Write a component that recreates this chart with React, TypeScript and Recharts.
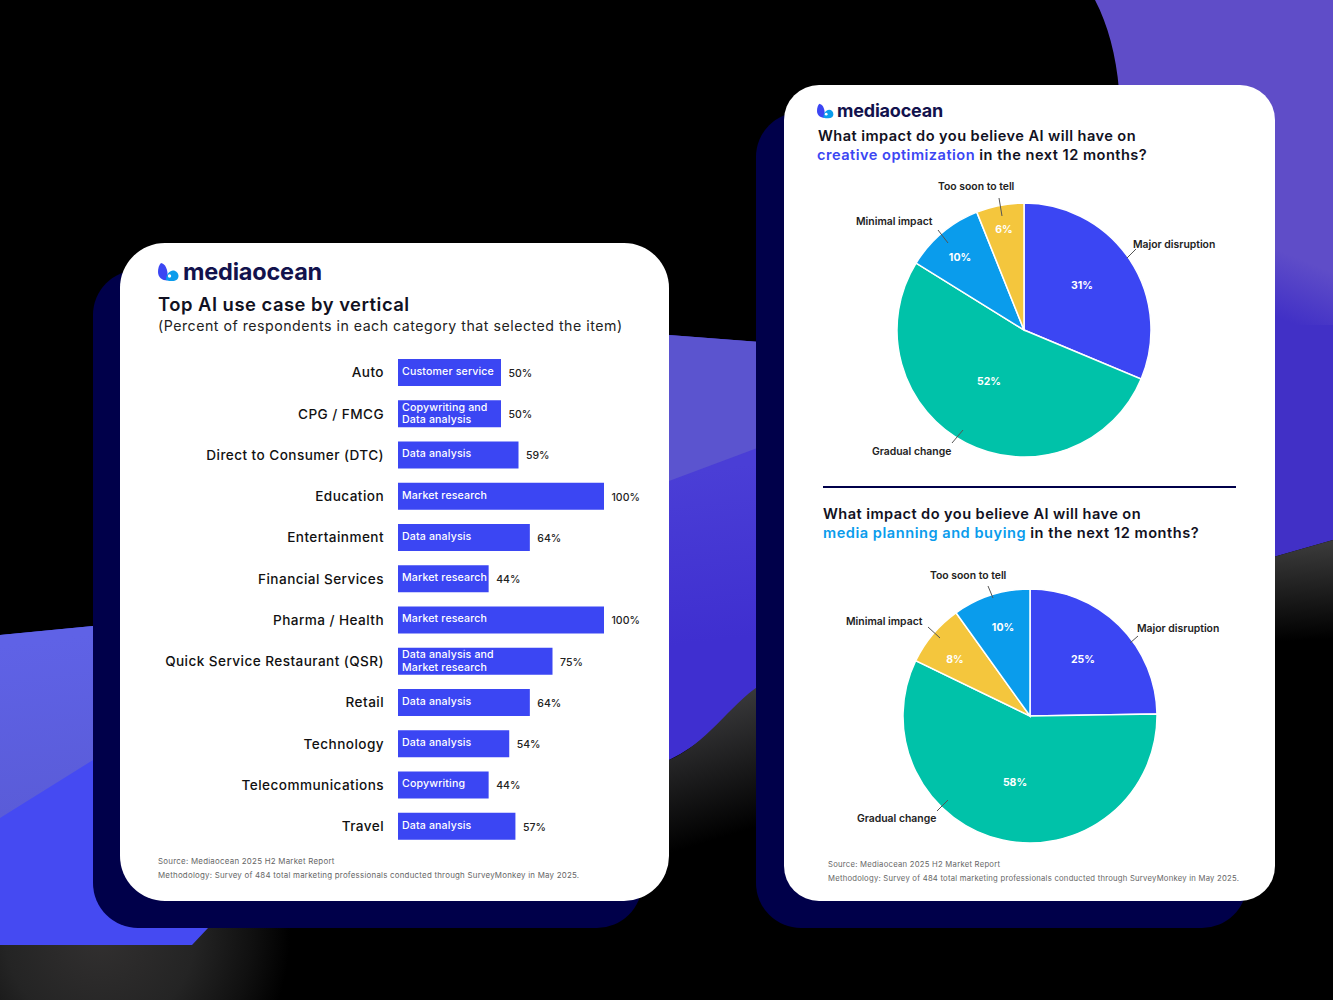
import React from "react";
import { BarChart, Bar, XAxis, YAxis, LabelList, PieChart, Pie, Cell } from "recharts";

const verticals = ["Auto","CPG / FMCG","Direct to Consumer (DTC)","Education","Entertainment","Financial Services","Pharma / Health","Quick Service Restaurant (QSR)","Retail","Technology","Telecommunications","Travel"];
const topShares = [50,50,58.5,100,64,44,100,75,64,54,44,57];
const shareLabels = ["50%","50%","59%","100%","64%","44%","100%","75%","64%","54%","44%","57%"];
const useCases = ["Customer service","Copywriting and\nData analysis","Data analysis","Market research","Data analysis","Market research","Market research","Data analysis and\nMarket research","Data analysis","Data analysis","Copywriting","Data analysis"];

const impactNames = ["Major disruption","Gradual change","Minimal impact","Too soon to tell"];
const creativeValues = [31,52,10,6];
const mediaValues = [25,58,8,10];

const BLUE="#3b46f3", TEAL="#00c2a9", SKY="#0a9cec", YELLOW="#f4c63d", NAVY="#00004a", INK="#111122";
const FONT="Inter, sans-serif";
const creativeColors=[BLUE,TEAL,SKY,YELLOW];
const mediaColors=[BLUE,TEAL,YELLOW,SKY];

const barRows = verticals.map((name,i)=>({name,share:topShares[i],label:shareLabels[i],useCase:useCases[i]}));
const toRows=(vals:number[])=>impactNames.map((name,i)=>({name,value:vals[i]}));

const creativeLayout={
  pct:[[58,-44],[-35,52],[-64,-72],[-20,-100]],
  text:[[109,-85],[-152,122],[-168,-108],[-86,-143]],
  lines:[[103,-72,112,-81],[-61,100,-72,113],[-76,-87,-86,-100],[-22,-114,-25,-132]],
};
const mediaLayout={
  pct:[[53,-56],[-15,67],[-75,-56],[-27,-88]],
  text:[[107,-87],[-173,103],[-184,-94],[-100,-140]],
  lines:[[100,-73,108,-80],[-82,84,-93,95],[-90,-78,-102,-89],[-37,-118,-42,-130]],
};

function UseCaseLabel(p:any){
  const {x,y,height,value}=p;
  const cy=Number(y)+Number(height)/2;
  const lines=String(value).split("\n");
  return <text x={Number(x)+4} y={cy} fontFamily={FONT} fontSize={10.6} fontWeight={500} fill="#fff" letterSpacing={0.15}>
    {lines.map((l,i)=><tspan key={i} x={Number(x)+4} y={lines.length>1?cy-6+i*12.5:cy-0.5} dominantBaseline="middle">{l}</tspan>)}
  </text>;
}
function ShareLabel(p:any){
  const {x,y,width,height,value}=p;
  return <text x={Number(x)+Number(width)+7.5} y={Number(y)+Number(height)/2+1.5} dominantBaseline="middle" fontFamily={FONT} fontSize={10.5} fontWeight={500} fill="#222">{value}</text>;
}
const makePieLabel=(layout:any,vals:number[])=>(p:any)=>{
  const {cx,cy,index}=p;
  const [px,py]=layout.pct[index], [tx,ty]=layout.text[index], [x1,y1,x2,y2]=layout.lines[index];
  return <g>
    <text x={cx+px} y={cy+py} textAnchor="middle" dominantBaseline="middle" fontFamily={FONT} fontSize={10.5} fontWeight={700} fill="#fff">{vals[index]}%</text>
    <line x1={cx+x1} y1={cy+y1} x2={cx+x2} y2={cy+y2} stroke="#555" strokeWidth={1}/>
    <text x={cx+tx} y={cy+ty} dominantBaseline="middle" fontFamily={FONT} fontSize={10.4} fontWeight={600} fill="#222">{impactNames[index]}</text>
  </g>;
};

function Logo({x,y,s,size}:{x:number,y:number,s:number,size:number}){
  return <div style={{position:"absolute",left:x,top:y,height:20*s,display:"flex",alignItems:"center"}}>
    <svg width={21*s} height={20*s} viewBox="0 0 21 20" style={{flex:"none"}}>
      <path d="M3 1 C7 2 9 6 9.5 11 L9.5 18.5 C4 18.5 0 15 0 10 C0 6 1 3 3 1Z" fill="#3b46f3"/>
      <path d="M8 18 C8 12 12 8.5 15 8.5 C18 8.5 20.5 11 20.5 14 C20.5 17 18 19 14 19 C12 19 10 19 8 18Z" fill="#0a9cec"/>
      <circle cx="11.5" cy="14" r="1.7" fill="#fff"/>
    </svg>
    <span style={{fontFamily:FONT,fontWeight:700,fontSize:size,color:"#12124d",marginLeft:4*s,letterSpacing:-0.2,lineHeight:1}}>mediaocean</span>
  </div>;
}
const T=({x,y,size,weight,color,children,ls}:any)=><div style={{position:"absolute",left:x,top:y,transform:"translateY(-50%)",fontFamily:FONT,fontSize:size,fontWeight:weight,color,letterSpacing:ls,whiteSpace:"nowrap",lineHeight:1.1}}>{children}</div>;

function Backdrop(){
  return <svg width={1333} height={1000} style={{position:"absolute",left:0,top:0}}>
    <defs>
      <radialGradient id="g1" gradientUnits="userSpaceOnUse" cx="100" cy="935" r="190"><stop offset="0" stopColor="#323030"/><stop offset="0.5" stopColor="#242424"/><stop offset="0.8" stopColor="#101010"/><stop offset="1" stopColor="#000"/></radialGradient>
      <linearGradient id="g2" gradientUnits="userSpaceOnUse" x1="690" y1="705" x2="730" y2="835"><stop offset="0" stopColor="#3a3a3c"/><stop offset="1" stopColor="#000"/></linearGradient>
      <linearGradient id="g3" gradientUnits="userSpaceOnUse" x1="1300" y1="545" x2="1305" y2="640"><stop offset="0" stopColor="#3a3a3a"/><stop offset="1" stopColor="#000"/></linearGradient>
      <linearGradient id="g4" gradientUnits="userSpaceOnUse" x1="40" y1="640" x2="60" y2="810"><stop offset="0" stopColor="#5f62e6"/><stop offset="1" stopColor="#5a5cd8"/></linearGradient>
      <linearGradient id="g5" gradientUnits="userSpaceOnUse" x1="700" y1="470" x2="720" y2="640"><stop offset="0" stopColor="#4a3ed6"/><stop offset="1" stopColor="#3f2fd0"/></linearGradient>
      <linearGradient id="g6" gradientUnits="userSpaceOnUse" x1="1322" y1="268" x2="1298" y2="326"><stop offset="0" stopColor="#5f4dc8"/><stop offset="1" stopColor="#4130c6"/></linearGradient>
    </defs>
    <rect width={1333} height={1000} fill="#000"/>
    <rect x={0} y={925} width={320} height={75} fill="url(#g1)"/>
    <path d="M0 635 L93 626 L200 626 L200 928 L208 928 L192 945 L0 945Z" fill="#454af2"/>
    <path d="M0 635 L93 626 L93 760 L0 818Z" fill="url(#g4)"/>
    <path d="M669 335 L760 342 L760 690 C725 720 700 745 669 760Z" fill="url(#g5)"/>
    <path d="M669 335 L760 342 L760 447 L669 481Z" fill="#5b54cf"/>
    <path d="M669 760 C705 745 730 705 760 685 L760 860 L669 860Z" fill="url(#g2)"/>
    <path d="M1095 0 C1108 25 1116 55 1119 90 L1119 340 L1333 340 L1333 0 Z" fill="url(#g6)"/>
    <path d="M1270 325 L1333 325 L1333 540 L1270 558Z" fill="#4130c6"/>
    <path d="M1270 558 L1333 540 L1333 645 L1270 645Z" fill="url(#g3)"/>
    <rect x={93} y={270} width={549} height={658} rx={45} fill={NAVY}/>
    <rect x={756} y={112} width={491} height={816} rx={45} fill={NAVY}/>
    <rect x={120} y={243} width={549} height={658} rx={45} fill="#fff"/>
    <rect x={784} y={85} width={491} height={816} rx={35} fill="#fff"/>
    <rect x={823} y={486} width={413} height={2} fill={NAVY}/>
  </svg>;
}

export default function App(){
  return <div style={{position:"absolute",left:0,top:0,width:1333,height:1000,overflow:"hidden",background:"#000"}}>
    <Backdrop/>
    <Logo x={158} y={262} s={1} size={23.5}/>
    <T x={158} y={304} size={18.4} weight={600} color={INK} ls={0.5}>Top AI use case by vertical</T>
    <T x={158} y={326} size={14.2} weight={400} color="#222" ls={0.5}>(Percent of respondents in each category that selected the item)</T>
    <div style={{position:"absolute",left:120,top:352}}>
      <BarChart width={549} height={495} data={barRows} layout="vertical" margin={{top:0,right:65,bottom:0,left:0}} barCategoryGap={14}>
        <XAxis type="number" domain={[0,100]} hide/>
        <YAxis type="category" dataKey="name" width={278} tickLine={false} axisLine={false} tickMargin={8} interval={0}
          tick={{fontFamily:FONT,fontSize:13.6,fontWeight:500,fill:"#111",letterSpacing:0.43}}/>
        <Bar dataKey="share" fill={BLUE} barSize={27} isAnimationActive={false}>
          <LabelList dataKey="useCase" content={UseCaseLabel}/>
          <LabelList dataKey="label" content={ShareLabel}/>
        </Bar>
      </BarChart>
    </div>
    <T x={158} y={861} size={7.9} weight={400} color="#666" ls={0.25}>Source: Mediaocean 2025 H2 Market Report</T>
    <T x={158} y={874.5} size={7.9} weight={400} color="#666" ls={0.23}>Methodology: Survey of 484 total marketing professionals conducted through SurveyMonkey in May 2025.</T>

    <Logo x={817} y={103} s={0.8} size={18}/>
    <T x={818} y={136} size={14.6} weight={600} color={INK} ls={0.43}>What impact do you believe AI will have on</T>
    <T x={817} y={155} size={14.6} weight={600} color={INK} ls={0.48}><span style={{color:BLUE}}>creative optimization</span> in the next 12 months?</T>
    <div style={{position:"absolute",left:784,top:170}}>
      <PieChart width={491} height={300} margin={{top:0,right:0,bottom:0,left:0}}>
        <Pie data={toRows(creativeValues)} dataKey="value" nameKey="name" cx={240} cy={160} outerRadius={127} startAngle={90} endAngle={-270} stroke="#fff" strokeWidth={1.5} isAnimationActive={false} labelLine={false} label={makePieLabel(creativeLayout,creativeValues)}>
          {creativeColors.map((c,i)=><Cell key={i} fill={c}/>)}
        </Pie>
      </PieChart>
    </div>
    <T x={823} y={514} size={14.6} weight={600} color={INK} ls={0.43}>What impact do you believe AI will have on</T>
    <T x={823} y={533} size={14.6} weight={600} color={INK} ls={0.52}><span style={{color:SKY}}>media planning and buying</span> in the next 12 months?</T>
    <div style={{position:"absolute",left:784,top:560}}>
      <PieChart width={491} height={300} margin={{top:0,right:0,bottom:0,left:0}}>
        <Pie data={toRows(mediaValues)} dataKey="value" nameKey="name" cx={246} cy={156} outerRadius={127} startAngle={90} endAngle={-270} stroke="#fff" strokeWidth={1.5} isAnimationActive={false} labelLine={false} label={makePieLabel(mediaLayout,mediaValues)}>
          {mediaColors.map((c,i)=><Cell key={i} fill={c}/>)}
        </Pie>
      </PieChart>
    </div>
    <T x={828} y={865} size={7.7} weight={400} color="#666" ls={0.25}>Source: Mediaocean 2025 H2 Market Report</T>
    <T x={828} y={878.5} size={7.7} weight={400} color="#666" ls={0.23}>Methodology: Survey of 484 total marketing professionals conducted through SurveyMonkey in May 2025.</T>
  </div>;
}
